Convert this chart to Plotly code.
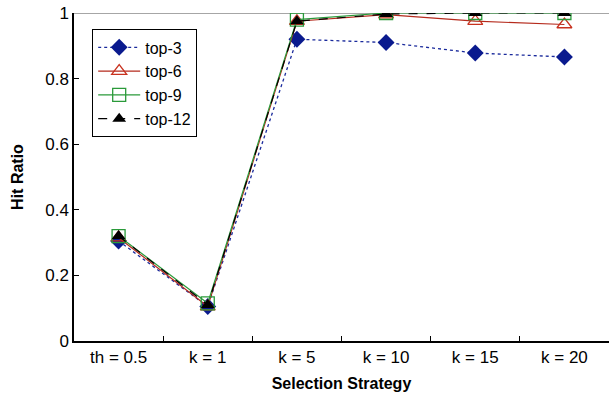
import plotly.graph_objects as go

categories = ["th = 0.5", "k = 1", "k = 5", "k = 10", "k = 15", "k = 20"]
top3 = [0.305, 0.105, 0.92, 0.91, 0.878, 0.866]
top6 = [0.315, 0.105, 0.975, 0.995, 0.975, 0.965]
top9 = [0.32, 0.115, 0.98, 1.0, 1.0, 1.0]
top12 = [0.32, 0.11, 0.975, 0.997, 1.0, 1.0]
y_ticks = [0, 0.2, 0.4, 0.6, 0.8, 1]
y_tick_labels = ["0", "0.2", "0.4", "0.6", "0.8", "1"]

fig = go.Figure()
fig.add_trace(go.Scatter(x=categories, y=top3, name="top-3", mode="lines+markers",
                         line=dict(color="#1a2a9c", width=1.3, dash="dot"),
                         marker=dict(symbol="diamond", size=13, color="#0a1a8e")))
fig.add_trace(go.Scatter(x=categories, y=top6, name="top-6", mode="lines+markers",
                         line=dict(color="#b52a1c", width=1.2),
                         marker=dict(symbol="triangle-up-open", size=13, color="#c8321f", line=dict(width=1.3))))
fig.add_trace(go.Scatter(x=categories, y=top9, name="top-9", mode="lines+markers",
                         line=dict(color="#2a9a3a", width=1.2),
                         marker=dict(symbol="square-open", size=13, color="#2a9a3a", line=dict(width=1.3))))
fig.add_trace(go.Scatter(x=categories, y=top12, name="top-12", mode="lines+markers",
                         line=dict(color="black", width=1.2, dash="dash"),
                         marker=dict(symbol="triangle-up", size=12, color="black")))

fig.add_shape(type="line", xref="paper", yref="y", x0=0, x1=1, y0=1, y1=1,
              line=dict(color="#888888", width=1.5), layer="below")

fig.update_layout(
    width=609, height=399,
    margin=dict(l=74, r=0, t=13, b=58),
    paper_bgcolor="white", plot_bgcolor="white",
    font=dict(family="Liberation Sans, Arial, sans-serif", color="black", size=17),
    showlegend=True,
    legend=dict(x=0.034, y=0.95, xanchor="left", yanchor="top",
                bordercolor="black", borderwidth=1, bgcolor="white",
                font=dict(size=16), tracegroupgap=0, itemwidth=42),
    xaxis=dict(type="category", range=[-0.5, 5.5], showline=True, linecolor="black", linewidth=1.5,
               ticks="inside", ticklen=5, tickcolor="black", tickson="boundaries",
               showgrid=False, zeroline=False, tickfont=dict(size=17),
               title=dict(text="<b>Selection Strategy</b>", font=dict(size=16), standoff=12)),
    yaxis=dict(range=[0, 1], tickvals=y_ticks, ticktext=y_tick_labels, showline=True,
               linecolor="black", linewidth=1.5, ticks="inside", ticklen=5, tickcolor="black",
               showgrid=False, zeroline=False, tickfont=dict(size=17),
               title=dict(text="<b>Hit Ratio</b>", font=dict(size=16), standoff=18)),
)

fig.write_html("out.html")
